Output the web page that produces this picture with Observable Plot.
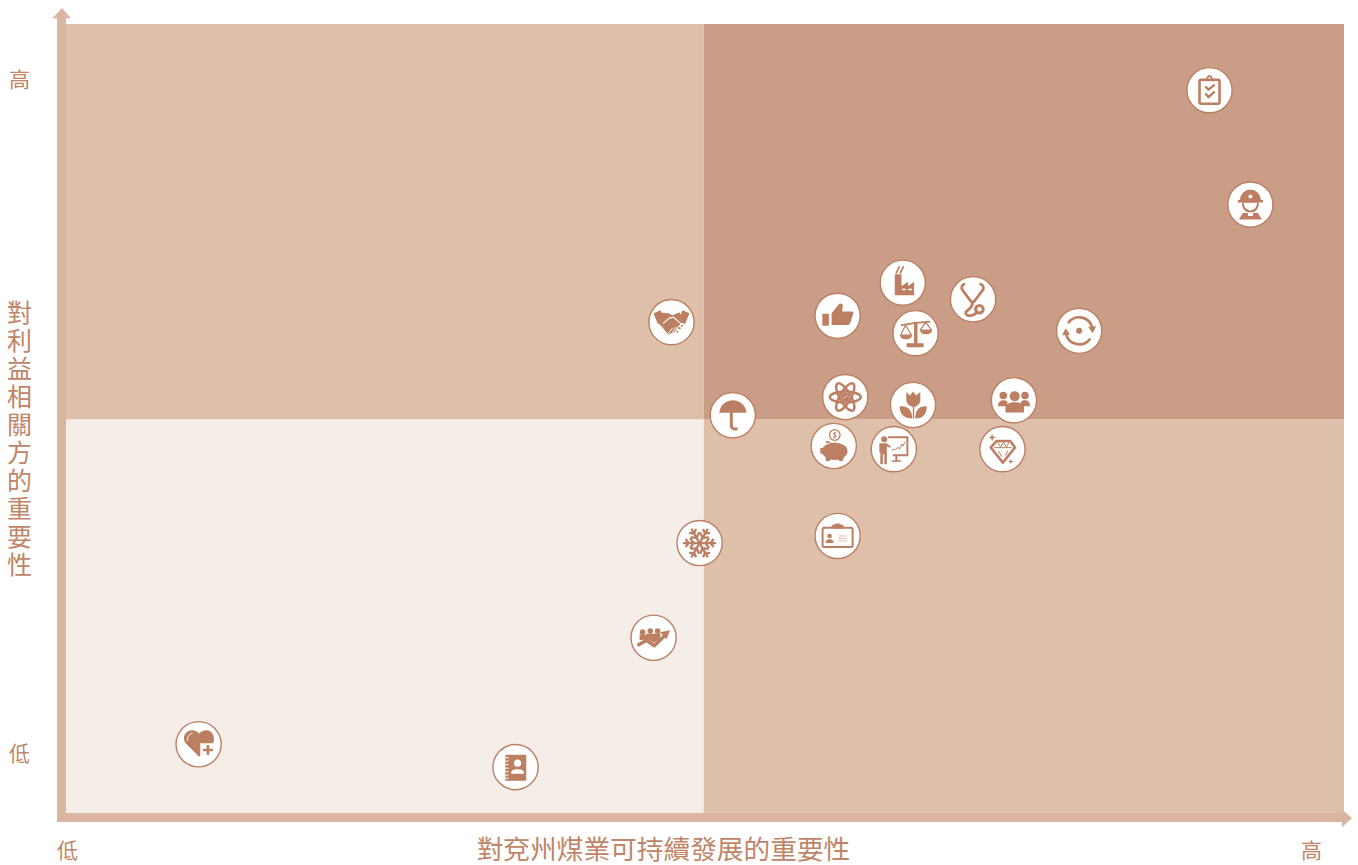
<!DOCTYPE html>
<html lang="zh-Hant">
<head>
<meta charset="utf-8">
<script src="https://cdn.jsdelivr.net/npm/d3@7"></script>
<script src="https://cdn.jsdelivr.net/npm/@observablehq/plot@0.6"></script>
<style>html,body{margin:0;padding:0;background:#fff}svg{display:block}</style>
</head>
<body>
<div id="chart"></div>
<script>
// Topic values (score 0-100 on each axis)
const topicNames = ["clipboard","miner","factory","stethoscope","thumb","handshake","balance","cycle","atom","tulip","people","umbrella","piggy","presenter","diamond","idcard","snowflake","growth","heart","notebook"];
const companyScores = [89.5,92.7,65.5,71.0,60.4,47.4,66.5,79.3,61.0,66.3,74.2,52.2,60.1,64.8,73.3,60.4,49.6,46.0,10.4,35.2];
const stakeholderScores = [91.6,77.1,67.2,65.1,63.0,62.2,60.8,61.1,52.7,51.7,52.3,50.4,46.5,46.1,46.1,35.1,34.2,22.2,8.7,5.8];

const xAxisTitle = "對兗州煤業可持續發展的重要性";
const yAxisTitle = "對利益相關方的重要性";
const lowLabel = "低";
const highLabel = "高";
const split = 49.9;

const INK = "#bc7f61", TEXT = "#c08568", DARK = "#ca9e86", MID = "#debfaa", LIGHT = "#f5ede7", AXIS = "#dab6a2";

const S = (d, w = 2) => `<path d="${d}" fill="none" stroke="${INK}" stroke-width="${w}" stroke-linecap="round" stroke-linejoin="round"/>`;
const F = (d, c = INK) => `<path d="${d}" fill="${c}"/>`;
const C = (x, y, r, c = INK) => `<circle cx="${x}" cy="${y}" r="${r}" fill="${c}"/>`;
const W = "#fff";

const glyphs = {
  clipboard:
    `<rect x="-10" y="-10.5" width="20" height="24" rx="1.5" fill="none" stroke="${INK}" stroke-width="2.6"/>` +
    F("M-5,-9 L-1.5,-15 H1.5 L5,-9 Z") + C(0,-12.2,1,W) +
    S("M-3.5,-3 L-1,-.5 L4.5,-5",2.4) + S("M-3.5,4 L-1,7 L4.5,2",2.4),
  miner:
    F("M-10.5,-4.5 A10.5,10.5 0 0 1 10.5,-4.5 H12.5 V-2 H-12.5 V-4.5 Z") + C(0,-8,2,W) +
    `<path d="M-8.5,-2 H8.5 C8.5,5 4.5,8 0,8 C-4.5,8 -8.5,5 -8.5,-2 Z" fill="${INK}"/>` +
    `<path d="M-6.5,-1.5 H6.5 C6.5,3.5 3,5.8 0,5.8 C-3,5.8 -6.5,3.5 -6.5,-1.5 Z" fill="${W}"/>` +
    F("M-11.5,15 L-7.5,8.5 H-2.5 V11.5 H2.5 V8.5 H7.5 L11.5,15 Z"),
  factory:
    F("M-8,-8.5 H-1.3 V3.3 L5.3,-1 V3.3 L11.3,-1 V12.5 H-8 Z") +
    F("M-.7,6 H3 V7.6 H-.7 Z M5.3,6 H9.3 V7.6 H5.3 Z",W) +
    S("M-6.5,-9.8 C-5.5,-12 -4.5,-13 -3.7,-16",1.6) + S("M-2.5,-9.8 C-1.5,-12 -.5,-13 .5,-16",1.6),
  stethoscope:
    S("M-9,-15 C-11.5,-14 -12,-11.5 -10.5,-9 L-3,1 C-1.5,3.5 .5,3.5 2,1 L9.5,-9 C11,-11.5 10.5,-14 7.5,-15",2.8) +
    S("M-.5,3 C-.5,8 -4,10 -6,11.5 C-8.5,13.5 -7,16.5 -4,16.5 C0,16.5 3,14 4,12.5",2.8) +
    `<circle cx="6.3" cy="10" r="3.8" fill="none" stroke="${INK}" stroke-width="3"/>`,
  thumb:
    F("M-15.3,-2 H-8.7 V10 H-15.3 Z") +
    F("M-6,-2.7 L1.7,-12 C3.5,-13 5.5,-11.5 5.2,-9.5 L4.5,-4.3 H14.5 C15.7,-4.3 16,-3.2 15.7,-2.3 L12.5,7.5 C12,8.7 11,9.2 10,9.2 H-6 Z"),
  handshake:
    F("M-18,-9 L-11,-12 L-6.5,-2 L-13.5,2 Z M18,-9 L11,-12 L6.5,-2 L13.5,2 Z") +
    F("M-10,-9.5 L-3,-9 L1,-7 L8,-10 L12,-1 L8,3 L5,6 L4,9 L1,10.5 L-3,12 L-6,9 L-10,4 L-13,1 Z") +
    S("M-8,1 L-2,-4 L2,-5 L10,2",1.2).replaceAll(INK,W) + S("M-3,11 L1,6 M1.5,9.5 L4.5,5",1).replaceAll(INK,W) +
    C(8,6,1.2) + C(10.5,3.5,1) + C(6,9.5,1),
  balance:
    F("M-1.5,-11 H1.9 V10 H-1.5 Z M-9,10 H8 V14 H-9 Z") +
    S("M-14,-8 L0,-10.3 L14,-11.5",1.8) +
    S("M-10,-8 L-15,2 H-4 Z",1.2) + F("M-15.5,2 H-3.5 C-4,5 -6.5,6 -9.5,6 C-12.5,6 -15,5 -15.5,2 Z") +
    S("M10,-11 L4.7,-3 H16 Z",1.2) + F("M4.5,-3 H16.5 C16,0 13.5,1 10.5,1 C7.5,1 5,0 4.5,-3 Z"),
  cycle:
    S("M-10.5,-8.5 A13.5,13.5 0 0 1 13,-3.5",2.6) + F("M9,-4 L17,-4.5 L13.5,2.5 Z") +
    S("M10.5,8.5 A13.5,13.5 0 0 1 -13,3.5",2.6) + F("M-9,4 L-17,4.5 L-13.5,-2.5 Z") + C(0,0,3),
  atom:
    [0,60,120].map(a => `<ellipse rx="15.5" ry="5.5" transform="rotate(${a})" fill="none" stroke="${INK}" stroke-width="2.5"/>`).join("") +
    C(0,0,4.3) + S("M-1.5,1.5 L1.5,-1.5",.9).replaceAll(INK,W),
  tulip:
    F("M-6.7,-13 L-3,-9.5 L0,-13.5 L3,-9.5 L7.3,-13 V-5 C7.3,-1 4,1.5 .5,2 C-3,1.5 -6.7,-1 -6.7,-5 Z") +
    F("M-.2,1 H1.2 V13.5 H-.2 Z") +
    F("M-13.5,1.5 C-7,.5 -1,3.5 -.8,13.5 C-7,13.5 -13,11 -13.5,1.5 Z") +
    F("M13.7,1.5 C8,.5 2.2,3.5 2.2,13.5 C8.5,13.5 13.5,11 13.7,1.5 Z"),
  people:
    C(-10.7,-4.7,3.8) + F("M-16,6 C-16,1 -13,0 -10.5,0 C-8.5,0 -7,.5 -6.5,2 L-7,6 Z") +
    C(11,-4.7,3.8) + F("M16,6 C16,1 13.5,0 11,0 C9,0 7.5,.5 7,2 L7.5,6 Z") +
    C(.7,-4,5) + F("M-8.5,12.3 V7 C-8.5,3.5 -4,2 .7,2 C5,2 10,3.5 10,7 V12.3 Z"),
  umbrella:
    F("M-13.5,-2.5 C-13,-10 -7,-15 0,-15 C7,-15 13,-10 13.7,-2.5 Z") +
    S("M-1.5,-2 V10.5 C-1.5,13 1,14.5 3.5,13.5",3),
  piggy:
    `<circle cx="1" cy="-11" r="5.3" fill="${W}" stroke="${INK}" stroke-width="1.3"/>` +
    `<path d="M1,-14.3 V-7.7 M2.7,-12.8 C1.5,-13.8 -.8,-13.2 -.4,-11.8 C0,-10.5 2.8,-11 2.6,-9.6 C2.3,-8.4 .2,-8.2 -.9,-9.2" fill="none" stroke="${INK}" stroke-width=".9"/>` +
    `<ellipse cx="1" cy="5.3" rx="12.7" ry="8.8" fill="${INK}"/>` +
    F("M-13.5,2 H-9 V7.5 H-13.5 Z M-8,10 H-3 L-4,15 H-8 Z M5,10 H10 L9,15 H5 Z M-8,-3 L-7,-5.5 L-2.5,-3 Z"),
  presenter:
    C(-9.7,-10,3) +
    F("M-14.5,-6 H-7.5 L-3,-3 L-4,-1.5 L-7,-3 V15 H-9.5 V5 H-11 V15 H-13.5 V3 H-14.5 Z") +
    `<path d="M-6,-12 H13.5 V6 H-1" fill="none" stroke="${INK}" stroke-width="2"/>` +
    F("M1.5,6 H3.5 V11 H7 V12.5 H-2 V11 H1.5 Z") +
    S("M-2,1 L2,0 L4,-2 L5.5,0 L8,-5 L9,-3 L11,-7",1),
  diamond:
    S("M-5.7,-8.2 H7.7 L12.5,-1.7 L.4,13.5 L-11.7,-1.7 Z",2.6) +
    S("M-8,-1.5 H9 M-4.5,-7 L-2,-2 L1,-7 L4,-2 L6.5,-7 M-4,2 L-1,7 M5,2 L3,6",1) +
    F("M-10.3,-15.5 L-9.3,-12.7 L-6.5,-11.7 L-9.3,-10.7 L-10.3,-7.9 L-11.3,-10.7 L-14.1,-11.7 L-11.3,-12.7 Z") +
    F("M8.3,9.6 L9,11.6 L11,12.3 L9,13 L8.3,15 L7.6,13 L5.6,12.3 L7.6,11.6 Z"),
  idcard:
    `<rect x="-15" y="-8.3" width="30" height="19.3" rx="1.5" fill="none" stroke="${INK}" stroke-width="2"/>` +
    F("M-6,-7.5 V-10 C-6,-11 -4.5,-11.5 -3,-11.5 C-2.5,-12.8 2.5,-12.8 3,-11.5 C4.5,-11.5 6,-11 6,-10 V-7.5 Z") +
    C(-8,0,2.3) + F("M-12,7 C-12,4 -10,3.2 -8,3.2 C-6,3.2 -4,4 -4,7 Z") +
    S("M1,0 H9 M1,2.5 H9 M1,5 H9",.8).replaceAll(INK,"#d9b09c"),
  snowflake:
    [0,60,120,180,240,300].map(a => `<g transform="rotate(${a})">` +
      S("M0,0 H16.5 M11,0 L14,-4 M11,0 L14,4 M6,0 L9.5,-5 M6,0 L9.5,5",2.3).replaceAll('stroke-linecap="round"','stroke-linecap="butt"') + `</g>`).join(""),
  growth:
    C(-11,-5.6,2.8) + C(-3.3,-6.7,2.8) + C(4,-6.7,2.8) +
    F("M-14,2.5 V-3 H-8 L-6.5,-4 H-.5 L1,-4.2 H7 L6.5,1 L.5,5 L-6,1.5 Z") +
    S("M-15,7 L-7,2.5 L.7,8 L11,-2",3.4) + F("M16.5,-7.5 L6.5,-5.5 L13,1.5 Z"),
  heart:
    F("M.5,12.5 L-12.5,-.5 C-16.5,-5 -15,-12 -8.5,-13.7 C-5,-14.5 -1.5,-13 .5,-10.5 C2.5,-13 6,-14.5 9.5,-13.7 C15.5,-12 16.5,-5 14.5,-1 Z") +
    S("M-11,-4 C-11.5,-8 -9,-10.5 -6.5,-11",1).replaceAll(INK,W) +
    F("M1.7,-1 H16.5 V13 H1.7 Z",W) + S("M9.3,.7 V10.7 M4.3,5.7 H14.3",2.6).replaceAll('stroke-linecap="round"','stroke-linecap="butt"'),
  notebook:
    `<rect x="-10.3" y="-12.5" width="21" height="26" rx="1.2" fill="${INK}"/>` +
    [-9.5,-6,-2.5,1,4.5,8,11].map(y => `<path d="M-11,${y} H-7" stroke="${W}" stroke-width="1"/>`).join("") +
    C(2,-4,3.6,W) + F("M-4.5,6.5 C-4.5,2.5 -1,2 2,2 C5,2 8.5,2.5 8.5,6.5 Z",W)
};

const iconUrl = name => "data:image/svg+xml," + encodeURIComponent(
  `<svg xmlns="http://www.w3.org/2000/svg" width="45" height="45" viewBox="-22.5 -22.5 45 45">${glyphs[name]}</svg>`);

const topics = topicNames.map((name, i) => ({name, company: companyScores[i], stakeholder: stakeholderScores[i]}));
const quadrants = [
  {x1: 0, x2: split, y1: 0, y2: split, fill: LIGHT},
  {x1: split, x2: 100, y1: 0, y2: split, fill: MID},
  {x1: 0, x2: split, y1: split, y2: 100, fill: MID},
  {x1: split, x2: 100, y1: split, y2: 100, fill: DARK}
];
const axisBands = [
  {x1: -0.7, x2: 0, y1: -1.14, y2: 101},
  {x1: -0.7, x2: 99.9, y1: -1.14, y2: 0}
];
const arrowUp = [{x: -1.1, y: 100.8}, {x: -.35, y: 102.1}, {x: .35, y: 100.8}];
const arrowRight = [{x: 99.8, y: .5}, {x: 100.6, y: -.57}, {x: 99.8, y: -1.75}];

const labelBase = {frameAnchor: "top-left", fill: TEXT, stroke: null, textAnchor: "middle", lineAnchor: "middle",
  fontFamily: "'Noto Sans CJK TC','Noto Sans CJK SC',sans-serif", fontWeight: 400};

const chart = Plot.plot({
  width: 1358, height: 865, margin: 0,
  style: {background: "#fff", overflow: "visible"},
  x: {domain: [0, 100], range: [66, 1344], axis: null},
  y: {domain: [0, 100], range: [813, 24], axis: null},
  marks: [
    Plot.rect(quadrants, {x1: "x1", x2: "x2", y1: "y1", y2: "y2", fill: "fill"}),
    Plot.rect(axisBands, {x1: "x1", x2: "x2", y1: "y1", y2: "y2", fill: AXIS}),
    Plot.line(arrowUp, {x: "x", y: "y", fill: AXIS, stroke: null}),
    Plot.line(arrowRight, {x: "x", y: "y", fill: AXIS, stroke: null}),
    Plot.dot(topics, {x: "company", y: "stakeholder", r: 22.6, fill: "#fff", stroke: INK, strokeWidth: 1.4, dx: -.8, dy: -.6}),
    Plot.image(topics, {x: "company", y: "stakeholder", width: 45, height: 45, dx: -.8, dy: -.6, src: d => iconUrl(d.name)}),
    Plot.text([yAxisTitle], {...labelBase, text: d => [...d].join("\n"), dx: 19, dy: 439, fontSize: 25, lineHeight: 1.12}),
    Plot.text([highLabel], {...labelBase, text: d => d, dx: 19, dy: 80, fontSize: 21}),
    Plot.text([lowLabel], {...labelBase, text: d => d, dx: 19, dy: 754, fontSize: 21}),
    Plot.text([lowLabel], {...labelBase, text: d => d, dx: 67, dy: 851, fontSize: 21}),
    Plot.text([xAxisTitle], {...labelBase, text: d => d, dx: 663, dy: 850, fontSize: 26.7}),
    Plot.text([highLabel], {...labelBase, text: d => d, dx: 1311, dy: 851, fontSize: 21})
  ]
});
document.getElementById("chart").append(chart);
</script>
</body>
</html>
